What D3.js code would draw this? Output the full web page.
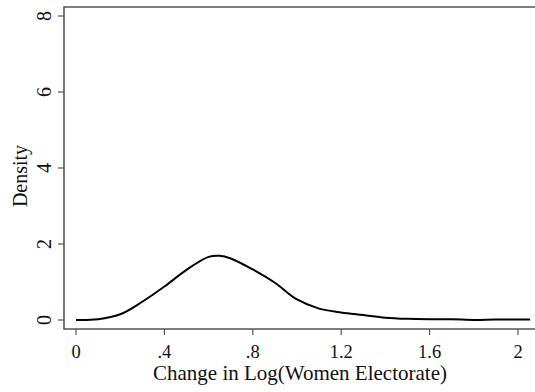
<!DOCTYPE html>
<html>
<head>
<meta charset="utf-8">
<script src="https://cdn.jsdelivr.net/npm/d3@7"></script>
<style>
  body { margin: 0; background: #fff; }
  text { font-family: "Liberation Serif", "DejaVu Serif", serif; fill: #111; }
</style>
</head>
<body>
<div id="chart"></div>
<script>
// kernel density estimate
var xs = [0, 0.1, 0.2, 0.3, 0.4, 0.5, 0.6, 0.65, 0.7, 0.8, 0.9, 1.0, 1.1, 1.2, 1.3, 1.4, 1.5, 1.6, 1.7, 1.8, 1.9, 2.0, 2.055];
var density = [0.0, 0.02, 0.15, 0.48, 0.88, 1.32, 1.66, 1.69, 1.62, 1.33, 0.98, 0.54, 0.3, 0.2, 0.13, 0.06, 0.03, 0.02, 0.02, 0.0, 0.01, 0.01, 0.01];
var xTicks = [0, 0.4, 0.8, 1.2, 1.6, 2];
var xTickLabels = ["0", ".4", ".8", "1.2", "1.6", "2"];
var yTicks = [0, 2, 4, 6, 8];

var width = 535, height = 392;
var axisLeft = 64, axisBottom = 329, plotTop = 7;

var svg = d3.select("#chart").append("svg")
  .attr("width", width).attr("height", height);

var x = d3.scaleLinear().domain([0, 2]).range([76, 518]);
var y = d3.scaleLinear().domain([0, 8]).range([320, 16]);

// frame: top, left, bottom
svg.append("path")
  .attr("d", "M" + width + "," + plotTop + "H" + axisLeft + "V" + axisBottom + "H" + width)
  .attr("fill", "none").attr("stroke", "#555").attr("stroke-width", 1.6);

// x ticks
svg.selectAll(".xt").data(xTicks).enter().append("line")
  .attr("x1", function (d) { return x(d); }).attr("x2", function (d) { return x(d); })
  .attr("y1", axisBottom).attr("y2", axisBottom + 6)
  .attr("stroke", "#555").attr("stroke-width", 1.2);
svg.selectAll(".xl").data(xTicks).enter().append("text")
  .attr("x", function (d) { return x(d); }).attr("y", 358)
  .attr("text-anchor", "middle").attr("font-size", 18.5)
  .text(function (d, i) { return xTickLabels[i]; });

// y ticks
svg.selectAll(".yt").data(yTicks).enter().append("line")
  .attr("y1", function (d) { return y(d); }).attr("y2", function (d) { return y(d); })
  .attr("x1", axisLeft).attr("x2", axisLeft - 6)
  .attr("stroke", "#555").attr("stroke-width", 1.2);
svg.selectAll(".yl").data(yTicks).enter().append("text")
  .attr("transform", function (d) { return "translate(51," + y(d) + ") rotate(-90)"; })
  .attr("text-anchor", "middle").attr("font-size", 20)
  .text(function (d) { return d; });

// axis titles
svg.append("text")
  .attr("x", 300).attr("y", 380)
  .attr("text-anchor", "middle").attr("font-size", 21)
  .text("Change in Log(Women Electorate)");
svg.append("text")
  .attr("transform", "translate(27,176) rotate(-90)")
  .attr("text-anchor", "middle").attr("font-size", 20)
  .text("Density");

// density curve
var line = d3.line()
  .x(function (d) { return x(d[0]); })
  .y(function (d) { return y(d[1]); })
  .curve(d3.curveCatmullRom.alpha(0.5));
svg.append("path")
  .datum(d3.zip(xs, density))
  .attr("d", line)
  .attr("fill", "none").attr("stroke", "#000").attr("stroke-width", 2);
</script>
</body>
</html>
